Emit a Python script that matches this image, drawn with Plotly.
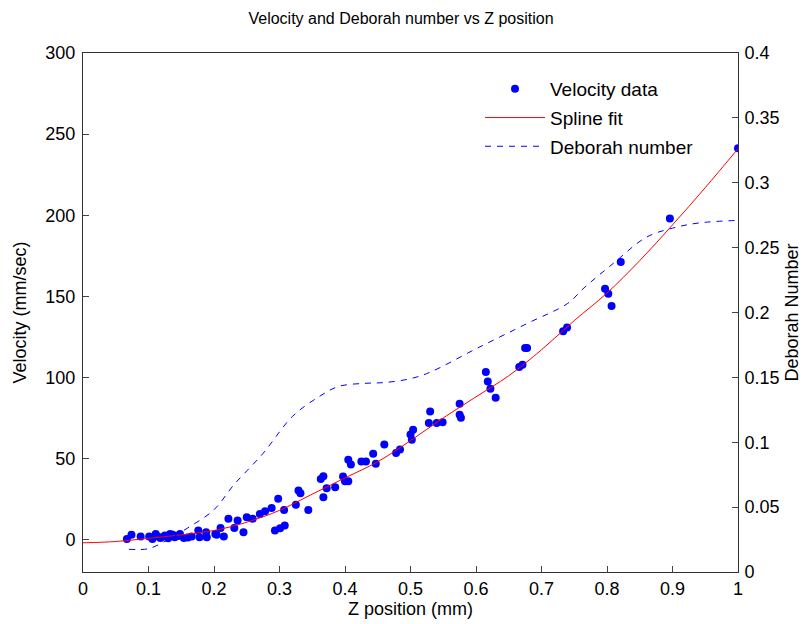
import plotly.graph_objects as go

# Velocity data (Z position in mm, velocity in mm/sec)
z_data = [0.067, 0.074, 0.088, 0.101, 0.106, 0.111, 0.118, 0.125, 0.133, 0.140,
          0.148, 0.154, 0.166, 0.176, 0.178, 0.188, 0.189, 0.202, 0.204, 0.210,
          0.215, 0.222, 0.231, 0.236, 0.245, 0.250, 0.259, 0.270, 0.278, 0.288,
          0.293, 0.298, 0.301, 0.308, 0.307, 0.325, 0.329, 0.332, 0.344, 0.363,
          0.367, 0.367, 0.372, 0.385, 0.397, 0.400, 0.405, 0.405, 0.409, 0.425,
          0.432, 0.443, 0.447, 0.460, 0.478, 0.484, 0.500, 0.504, 0.502, 0.530,
          0.528, 0.540, 0.549, 0.575, 0.575, 0.577, 0.615, 0.618, 0.622, 0.630,
          0.666, 0.671, 0.675, 0.678, 0.733, 0.739, 0.797, 0.802, 0.807, 0.821,
          0.896, 1.000, 0.113, 0.130, 0.145, 0.160, 0.120, 0.137]
v_data = [0.4, 2.9, 1.9, 1.9, 0.4, 3.5, 1.0, 2.5, 3.5, 1.4,
          3.5, 1.0, 1.9, 5.6, 1.4, 4.5, 1.4, 3.5, 2.9, 7.2,
          1.9, 12.8, 7.2, 11.7, 4.5, 13.8, 12.8, 15.8, 17.5, 19.5,
          5.6, 25.1, 7.0, 8.6, 18.3, 21.4, 30.2, 28.6, 18.3, 37.4,
          39.1, 26.1, 31.7, 32.3, 38.9, 36.0, 36.0, 49.2, 46.3, 48.1,
          48.1, 52.9, 46.7, 58.6, 53.3, 55.6, 64.8, 67.7, 61.5, 79.0,
          71.8, 71.8, 72.4, 83.7, 77.0, 75.1, 103.3, 97.5, 93.0, 87.5,
          106.4, 107.8, 118.1, 118.1, 128.4, 130.7, 154.7, 151.6, 144.0, 171.2,
          198.0, 241.2, 2.0, 0.8, 2.2, 1.2, 1.5, 3.0]

# Spline fit
z_fit = [0.0, 0.05, 0.1, 0.15, 0.2, 0.25, 0.3, 0.35, 0.4, 0.45, 0.5,
         0.55, 0.6, 0.65, 0.7, 0.75, 0.8, 0.85, 0.9, 0.95, 1.0]
v_fit = [-2.0, -1.2, 0.8, 2.9, 5.6, 10.7, 18.0, 28.0, 38.0, 48.0, 61.0,
         75.0, 88.0, 101.0, 117.0, 135.0, 152.0, 172.0, 194.0, 217.0, 241.0]

# Deborah number
z_deb = [0.07, 0.10, 0.13, 0.16, 0.20, 0.23, 0.275, 0.32, 0.36, 0.39, 0.43,
         0.46, 0.50, 0.53, 0.60, 0.68, 0.74, 0.765, 0.81, 0.86, 0.90, 0.94, 1.0]
deb = [0.0175, 0.018, 0.025, 0.034, 0.048, 0.067, 0.0915, 0.12, 0.135, 0.143, 0.1454,
       0.146, 0.149, 0.154, 0.172, 0.192, 0.207, 0.219, 0.238, 0.258, 0.265, 0.269, 0.271]

font = "Liberation Sans, Arial, Helvetica, sans-serif"

fig = go.Figure()
fig.add_trace(go.Scatter(x=z_data, y=v_data, mode="markers", name="Velocity data",
                         legendgroup="a",
                         marker=dict(color="#0000FF", size=8, line=dict(width=0))))
fig.add_trace(go.Scatter(x=z_fit, y=v_fit, mode="lines", name="Spline fit",
                         legendgroup="b",
                         line=dict(color="#FF0000", width=1, shape="spline")))
fig.add_trace(go.Scatter(x=z_deb, y=deb, mode="lines", name="Deborah number", yaxis="y2",
                         legendgroup="c",
                         line=dict(color="#0000FF", width=1, dash="6px,6px", shape="spline")))

axis_title_font = dict(size=18, family=font, color="black")

fig.update_layout(
    width=802, height=624,
    margin=dict(l=83, r=64, t=53, b=52, autoexpand=False),
    paper_bgcolor="white", plot_bgcolor="white",
    font=dict(family=font, size=18, color="black"),
    title=dict(text="Velocity and Deborah number vs Z position", x=0.5, xref="container",
               xanchor="center",
               y=1 - 18 / 624, yanchor="middle", font=dict(size=16)),
    xaxis=dict(range=[0, 1], dtick=0.1, tick0=0, ticks="inside", ticklen=6,
               showline=True, linecolor="#333", mirror=True, showgrid=False, zeroline=False,
               ticklabelstandoff=0, automargin=False,
               title=dict(text="Z position (mm)", standoff=4, font=axis_title_font)),
    yaxis=dict(range=[-20, 300], dtick=50, tick0=0, ticks="inside", ticklen=6,
               showline=True, linecolor="#333", showgrid=False, zeroline=False,
               ticklabelstandoff=3, automargin=False,
               title=dict(text="Velocity (mm/sec)", standoff=14, font=axis_title_font)),
    yaxis2=dict(range=[0, 0.4], dtick=0.05, tick0=0, ticks="inside", ticklen=6,
                overlaying="y", side="right",
                showline=True, linecolor="#333", showgrid=False, zeroline=False,
                ticklabelstandoff=2, automargin=False,
                title=dict(text="Deborah Number", standoff=8, font=axis_title_font)),
    legend=dict(x=(480 - 83) / 655, y=(53 - 70) / 519 + 1, xanchor="left", yanchor="top",
                bgcolor="rgba(0,0,0,0)", font=dict(size=19), itemwidth=60,
                tracegroupgap=1),
    showlegend=True,
)

fig.write_html("out.html")
